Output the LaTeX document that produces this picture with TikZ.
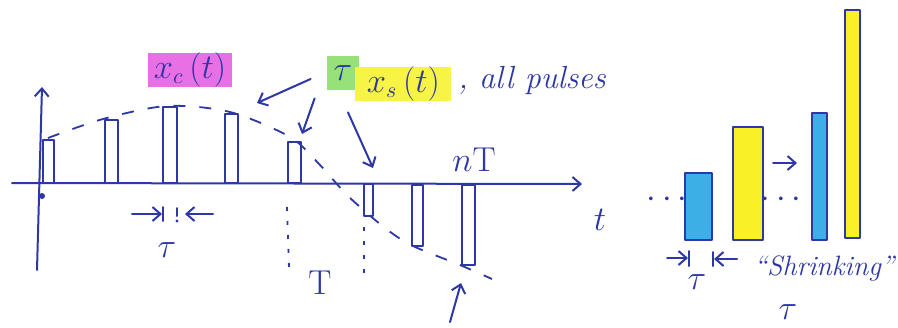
\documentclass[tikz,border=0pt]{standalone}
\usetikzlibrary{arrows.meta}
\definecolor{ink}{RGB}{45,55,165}
\definecolor{hlpink}{RGB}{232,112,228}
\definecolor{hlgreen}{RGB}{150,225,120}
\definecolor{hlyellow}{RGB}{248,244,70}
\definecolor{barblue}{RGB}{60,175,230}
\definecolor{baryellow}{RGB}{250,240,40}
\tikzset{
  pen/.style={draw=ink, line width=1pt, line cap=round, line join=round},
  envelope/.style={draw=ink, line width=0.9pt, dash pattern=on 6pt off 7pt},
  guide/.style={draw=ink, line width=0.9pt, dash pattern=on 2pt off 5pt},
  pointer/.style={pen, -{Straight Barb[length=4pt, width=7pt]}},
  hand/.style={text=ink, inner sep=1pt, font=\fontsize{16}{18}\selectfont\itshape},
  highlight/.style={hand, inner sep=0pt}
}
\begin{document}
\begin{tikzpicture}[x=0.5pt, y=-0.5pt]
  \useasboundingbox (0,0) rectangle (898,327);

  % Axes
  \coordinate (yfoot) at (37,270);
  \coordinate (ytip) at (42,87);
  \coordinate (xstart) at (12,183);
  \coordinate (xtip) at (582,184);
  \draw[pointer] (yfoot) -- (ytip);
  \draw[pointer] (xstart) -- (xtip);
  \fill[ink] (42,196) circle (1.5pt);

  % Positive pulses
  \draw[pen] (43,183) rectangle (54,140);
  \draw[pen] (105,183) rectangle (118,120);
  \draw[pen] (163,183) rectangle (177,107);
  \draw[pen] (225,183) rectangle (238,114);
  \draw[pen] (288,183) rectangle (301,142);

  % Negative pulses
  \draw[pen] (364,184) rectangle (373,216);
  \draw[pen] (412,185) rectangle (423,246);
  \draw[pen] (462,185) rectangle (475,265);

  % Envelope x_c(t)
  \draw[envelope] plot[smooth] coordinates {(48,138) (103,119) (167,106) (230,112)
    (290,137) (320,165) (348,196) (385,228) (413,246) (460,265) (492,279)};

  % Period guides
  \draw[guide] (287,207) -- (289,268);
  \draw[guide] (364,227) -- (364,277);

  % Pulse width marks
  \coordinate (wl) at (132,214);
  \coordinate (wlend) at (162,214);
  \coordinate (wr) at (213,214);
  \coordinate (wrend) at (185,214);
  \draw[pointer] (wl) -- (wlend);
  \draw[pen] (163,207) -- (163,221);
  \draw[pen] (177,208) -- (177,216);
  \fill[ink] (177,221) circle (0.8pt);
  \draw[pointer] (wr) -- (wrend);
  \node[hand] (tauw) at (167,250) {$\tau$};

  % Axis labels
  \node[hand] (Tlabel) at (320,283) {$\mathrm{T}$};
  \node[hand] (tlabel) at (600,220) {$t$};
  \node[hand] (nTlabel) at (474,160) {$n\mathrm{T}$};
  \coordinate (lastfoot) at (450,322);
  \coordinate (lasttip) at (461,283);
  \draw[pointer] (lastfoot) -- (lasttip);

  % Highlighted labels
  \node[highlight, fill=hlpink, minimum width=42pt, minimum height=17pt] (xclabel) at (190,70) {$x_c\,(t)$};
  \node[highlight, fill=hlgreen, minimum width=16pt, minimum height=17pt] (taulabel) at (343,73) {$\tau$};
  \node[highlight, fill=hlyellow, minimum width=48pt, minimum height=16pt, anchor=west] (xslabel) at (355,84) {$x_s\,(t)$};
  \node[hand, anchor=west] (pulselabel) at (456,80) {, all pulses};

  % Pointers from the label
  \coordinate (envtip) at (257,103);
  \coordinate (pulsetip) at (302,134);
  \coordinate (negtip) at (373,168);
  \draw[pointer] (taulabel.west) ++(-16,6) -- (envtip);
  \draw[pointer] (taulabel.south west) ++(-12,8) -- (pulsetip);
  \draw[pointer] (taulabel.south) ++(5,22) -- (negtip);

  % Shrinking pulses
  \node[hand] (dotsa) at (667,200) {$\cdots$};
  \draw[pen, fill=barblue] (685,240) rectangle (712,173);
  \draw[pen, fill=baryellow] (733,240) rectangle (763,127);
  \coordinate (growl) at (773,163);
  \coordinate (growr) at (797,163);
  \draw[pointer] (growl) -- (growr);
  \node[hand] (dotsb) at (781,200) {$\cdots$};
  \draw[pen, fill=barblue] (812,240) rectangle (827,113);
  \draw[pen, fill=baryellow] (845,238) rectangle (860,10);

  % Shrinking width marks
  \coordinate (sl) at (667,258);
  \coordinate (slend) at (688,258);
  \coordinate (sr) at (737,259);
  \coordinate (srend) at (714,259);
  \draw[pointer] (sl) -- (slend);
  \draw[pen] (689,251) -- (689,266);
  \draw[pointer] (sr) -- (srend);
  \draw[pen] (713,252) -- (713,266);
  \node[hand] (taus) at (697,282) {$\tau$};
  \node[hand, font=\fontsize{14}{16}\selectfont\itshape] (shrinklabel) at (824,268) {``Shrinking''};
  \node[hand] (taushrink) at (788,312) {$\tau$};
\end{tikzpicture}
\end{document}
